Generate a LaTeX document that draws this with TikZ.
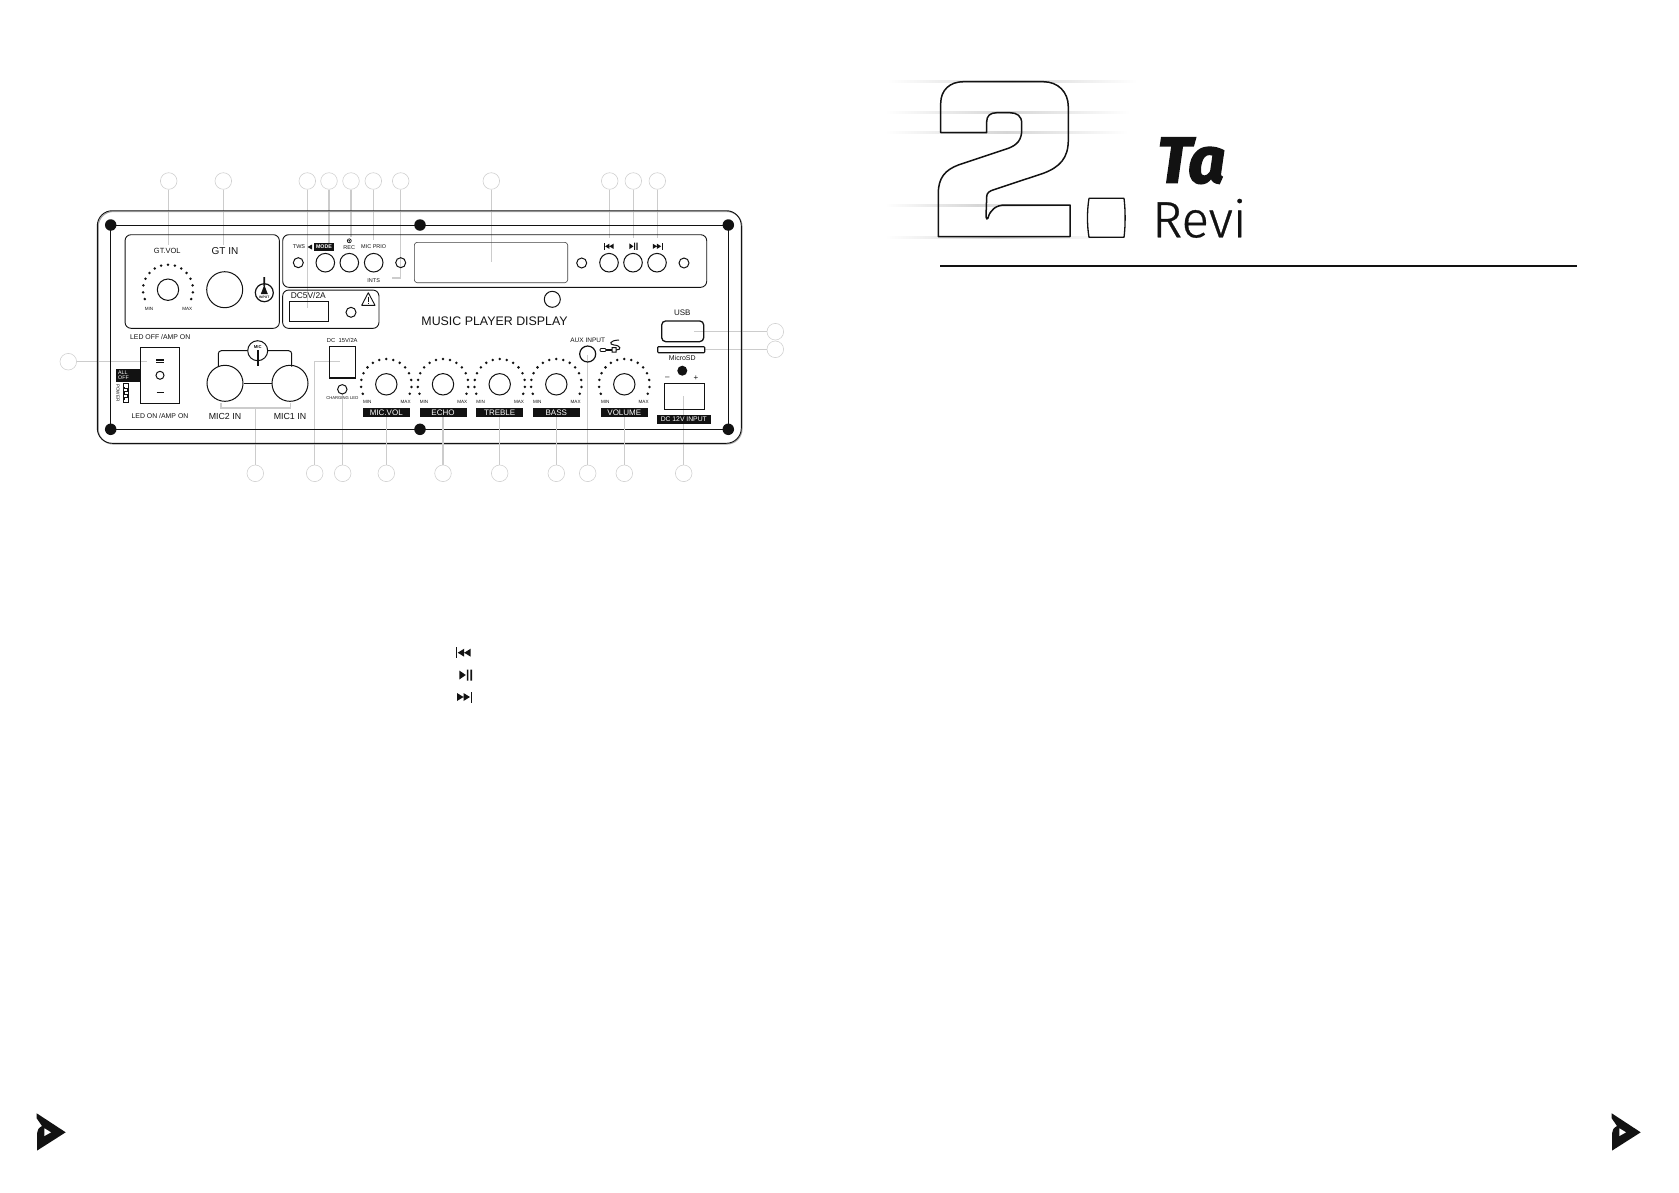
\documentclass[tikz,border=0pt]{standalone}
\usepackage{fontspec}
\setmainfont{Liberation Sans}
\newfontfamily\headfont[BoldItalicFeatures={FakeBold=2.2}]{Fira Sans}
\newfontfamily\headlight[FakeBold=.6]{Fira Sans Light}
\newcommand{\px}[1]{\fontsize{#1}{#1}\selectfont}
\definecolor{calloutgray}{gray}{0.82}
\definecolor{leadergray}{gray}{0.80}
\definecolor{streakgray}{gray}{0.84}
\definecolor{inkblack}{gray}{0.07}
\tikzset{
  callout/.style={circle,draw=calloutgray,line width=.6pt,minimum size=16.6pt,inner sep=0pt},
  leader/.style={draw=leadergray,line width=1.1pt},
  jack/.style={circle,draw=inkblack,line width=1pt,inner sep=0pt},
  led/.style={jack,minimum size=10pt},
  btn/.style={jack,minimum size=18.6pt},
  knob/.style={jack,minimum size=21.4pt},
  screw/.style={circle,fill=inkblack,minimum size=11.5pt,inner sep=0pt},
  block/.style={draw=inkblack,line width=.9pt,rounded corners=6pt},
  txt/.style={inner sep=0pt,text=inkblack,font=\px{5.5}},
  tag/.style={fill=inkblack,text=white,inner sep=0pt,minimum height=9.3pt,font=\px{8}},
  streak/.style={left color=white,right color=white,middle color=streakgray},
  logomark/.pic={
    \fill[inkblack] (0,0) -- (29,19) -- (.3,37.3) -- (.3,20)
      .. controls (.3,17) and (2,14.5) .. (5.3,12.7) -- (0,5) -- cycle;
    \fill[white] (7.7,15) -- (14.3,19) -- (7.7,22.7) -- cycle;
  },
  prevsym/.pic={
    \fill[inkblack] (-8,-5.5) rectangle (-6.6,5.5);
    \fill[inkblack] (-6,0) -- (0.5,-4) -- (0.5,4) -- cycle (0.5,0) -- (7,-4) -- (7,4) -- cycle;
  },
  playsym/.pic={
    \fill[inkblack] (-6.5,-4.5) -- (0,0) -- (-6.5,4.5) -- cycle;
    \fill[inkblack] (1,-5.5) rectangle (2.6,5.5) (4.6,-5.5) rectangle (6.2,5.5);
  },
  nextsym/.pic={
    \fill[inkblack] (8,-5.5) rectangle (6.6,5.5);
    \fill[inkblack] (6,0) -- (-0.5,-4) -- (-0.5,4) -- cycle (-0.5,0) -- (-7,-4) -- (-7,4) -- cycle;
  },
}
\begin{document}
\begin{tikzpicture}[x=1pt,y=-1pt]
  \useasboundingbox (0,0) rectangle (1679,1192);

  % callouts
  \foreach \name/\cx in {gtvol/168.7,gtin/223.3,dcfive/307.3,mode/329,rec/351,prio/373.3,ints/400.7,
      disp/491.3,prev/609.7,play/633.3,next/657.3}
    \node[callout] (top-\name) at (\cx,181) {};
  \foreach \name/\cx in {mic/255.3,dcin/314.7,charge/342.7,micvol/386.3,echo/443,treble/499.7,
      bass/556.3,aux/587.7,volume/624.3,dcinput/683.7}
    \node[callout] (bot-\name) at (\cx,473.3) {};
  \node[callout] (side-usb) at (775.3,331.7) {};
  \node[callout] (side-sd) at (775.3,349.3) {};
  \node[callout] (side-power) at (68.3,361.7) {};

  % leader ends
  \coordinate (end-gtvol) at (168.7,245);
  \coordinate (end-gtin) at (223.3,245);
  \coordinate (end-dcfive) at (307.3,307.7);
  \coordinate (end-mode) at (329,243);
  \coordinate (end-rec) at (351,237);
  \coordinate (end-prio) at (373.3,240);
  \coordinate (end-ints) at (391.7,278);
  \coordinate (bend-ints) at (400.7,278);
  \coordinate (end-disp) at (491.3,261.7);
  \coordinate (end-prev) at (609.7,238);
  \coordinate (end-play) at (633.3,238);
  \coordinate (end-next) at (657.3,238);
  \coordinate (end-mic) at (255.3,408);
  \coordinate (end-dcin) at (340,361.7);
  \coordinate (bend-dcin) at (314.7,361.7);
  \coordinate (end-charge) at (342.7,393);
  \coordinate (end-aux) at (587.7,355);
  \coordinate (end-dcinput) at (683.7,396);
  \coordinate (end-usb) at (694,331.7);
  \coordinate (end-sd) at (704,349.3);
  \coordinate (end-power) at (146.7,361.7);
  \foreach \name in {gtvol,gtin,dcfive,mode,rec,prio,disp,prev,play,next}
    \path[leader] (top-\name) edge (end-\name);
  \draw[leader] (top-ints) -- (bend-ints) -- (end-ints);
  \draw[leader] (bot-dcin) -- (bend-dcin) -- (end-dcin);
  \draw[leader] (221,403) |- (end-mic) -| (290.7,403);
  \path[leader] (bot-mic) edge (end-mic)
    (bot-charge) edge (end-charge)
    (bot-aux) edge (end-aux)
    (bot-dcinput) edge (end-dcinput);
  \path[leader,line width=.7pt] (side-usb) edge (end-usb)
    (side-sd) edge (end-sd)
    (side-power) edge (end-power);

  % panel
  \draw[draw=gray!70,line width=1.1pt,rounded corners=15pt] (98.2,211.5) rectangle (742,444);
  \draw[draw=inkblack,line width=.9pt,rounded corners=15pt] (97.3,210.7) rectangle (741.3,443.3);
  \draw[draw=inkblack,line width=1pt] (110.7,225) rectangle (728.3,429.3);
  \foreach \cx/\cy [count=\i] in {110.7/225,420/225,728.3/225,110.7/429.3,420/429.3,728.3/429.3}
    \node[screw] (screw-\i) at (\cx,\cy) {};
  \node[block,minimum width=154.3pt,minimum height=93.6pt,inner sep=0pt] (gtpanel) at (202.2,281.5) {};
  \node[block,minimum width=424pt,minimum height=52.6pt,inner sep=0pt] (strip) at (494.7,261) {};
  \node[block,minimum width=96.3pt,minimum height=38.3pt,inner sep=0pt] (usbpanel) at (330.8,309.2) {};
  \node[block,draw=inkblack!80,line width=.6pt,rounded corners=3pt,minimum width=153.4pt,minimum height=40.4pt,inner sep=0pt] (display) at (491,262.5) {};

  % guitar input
  \node[txt,font=\px{7.5}] (gtvol) at (167.3,250.7) {GT.VOL};
  \node[txt,font=\px{10}] (gtin) at (225,250.7) {GT IN};
  \node[knob] (gtknob) at (168,289.7) {};
  \foreach \a in {202,186,...,-22}
    \fill[inkblack] (gtknob.center) ++(\a:25pt) circle (1.4pt);
  \node[txt,font=\px{4.6}] (gtmin) at (149,309) {MIN};
  \node[txt,font=\px{4.6}] (gtmax) at (187.3,309) {MAX};
  \node[jack,minimum size=36pt] (gtjack) at (224.7,289.7) {};
  \node[jack,minimum size=18pt,line width=1.2pt] (inputicon) at (264.3,292.7) {};
  \node[txt,font=\bfseries\px{3.4}] (inputtxt) at (264.3,297.5) {INPUT};
  \fill[inkblack] (263.4,277) rectangle (265.2,286) (260.8,294) -- (264.3,285) -- (267.8,294) -- cycle;

  % usb charger
  \node[txt,font=\px{8.4}] (dcfivetxt) at (308.3,295.7) {DC5V/2A};
  \node[draw=inkblack,line width=1pt,minimum width=39pt,minimum height=19.7pt,inner sep=0pt] (usbport) at (308.5,311.2) {};
  \node[led] (dcfiveled) at (351,312.3) {};
  \draw[inkblack,line width=.9pt,line join=round] (368.3,292.7) -- (361.7,305.3) -- (375,305.3) -- cycle;
  \draw[inkblack,line width=.9pt] (368.3,296.5) -- (368.3,301.5) (368.3,302.7) -- (368.3,303.9);

  % control strip
  \node[txt] (twstxt) at (299,247) {TWS};
  \fill[inkblack] (307.5,247) -- (312,244.5) -- (312,249.5) -- cycle;
  \node[tag,font=\bfseries\px{5.3},minimum width=20pt,minimum height=7.7pt] (modetxt) at (324,246.8) {MODE};
  \node[txt] (rectxt) at (349.3,247.3) {REC};
  \node[circle,draw=inkblack,line width=.7pt,minimum size=4pt,inner sep=0pt] (recdot) at (349.3,240.8) {};
  \fill[inkblack] (recdot) circle (.9pt);
  \node[txt] (priotxt) at (373.7,247) {MIC PRIO};
  \node[txt] (intstxt) at (373.7,280.7) {INTS};
  \node[led] (twsled) at (298.3,262.7) {};
  \node[btn] (modebtn) at (325.3,262.7) {};
  \node[btn] (recbtn) at (349.3,262.7) {};
  \node[btn] (priobtn) at (373.7,262.7) {};
  \node[led] (intsled) at (400.7,262.7) {};
  \node[led] (leftled) at (581.7,263) {};
  \node[btn] (prevbtn) at (609,262.7) {};
  \node[btn] (playbtn) at (633,262.7) {};
  \node[btn] (nextbtn) at (657,262.7) {};
  \node[led] (rightled) at (684,263) {};
  \pic[scale=.65] (prevtop) at (609,246.3) {prevsym};
  \pic[scale=.65] (playtop) at (633.5,246.3) {playsym};
  \pic[scale=.65] (nexttop) at (657.3,246.3) {nextsym};
  \node[jack,minimum size=16pt] (irwindow) at (552.3,299.3) {};
  \node[txt,font=\px{12.4}] (playertxt) at (494.6,321) {MUSIC PLAYER DISPLAY};

  % power switch
  \node[txt,font=\px{6.9}] (ledoff) at (160.2,337.3) {LED OFF /AMP ON};
  \node[draw=inkblack,line width=1.1pt,minimum width=39pt,minimum height=56pt,inner sep=0pt] (switch) at (159.8,375.3) {};
  \draw[inkblack,line width=1.1pt] (156,360) -- (164,360) (156,362.8) -- (164,362.8) (156.5,392.3) -- (163.5,392.3);
  \node[jack,minimum size=8pt] (switchled) at (160,375.3) {};
  \node[fill=inkblack,minimum width=24pt,minimum height=12.4pt,inner sep=0pt] (alloff) at (128,375.5) {};
  \node[text=white,inner sep=0pt,font=\px{5.3},align=left] (alltxt) at (123.5,375.5) {ALL\\[-.6pt]OFF};
  \node[txt,font=\px{4.6},rotate=-90] (powertxt) at (118,393) {POWER};
  \node[draw=inkblack,line width=1pt,minimum width=5.4pt,minimum height=18.7pt,inner sep=0pt] (powerbox) at (126,393.3) {};
  \draw[inkblack,line width=.8pt] (124.8,386.5) -- (124.8,388.5) -- (127.2,388.5) -- (127.2,391.5) -- (124.8,391.5) -- (124.8,394.5) -- (127.2,394.5) -- (127.2,397.5) -- (124.8,397.5) -- (124.8,400);
  \node[txt,font=\px{6.9}] (ledon) at (160,416.3) {LED ON /AMP ON};

  % mic inputs
  \node[jack,minimum size=36pt] (micb) at (225,383.3) {};
  \node[jack,minimum size=36pt] (mica) at (290,383.3) {};
  \draw[inkblack,line width=1pt] (micb) -- (mica);
  \node[jack,minimum size=20pt] (micicon) at (257.7,350.7) {};
  \draw[inkblack,line width=1pt,rounded corners=3pt] (218.3,366.5) |- (micicon);
  \draw[inkblack,line width=1pt,rounded corners=3pt] (291.7,366.5) |- (micicon);
  \node[txt,font=\bfseries\px{4.2}] (mictxt) at (257.7,347) {MIC};
  \fill[inkblack] (257,350) rectangle (258.6,365.5);
  \node[txt,font=\px{8.8}] (micbtxt) at (225,416) {MIC2 IN};
  \node[txt,font=\px{8.8}] (micatxt) at (290,416) {MIC1 IN};

  % dc jack
  \node[txt,font=\px{5.8}] (dcintxt) at (342.3,340) {DC\ \ 15V/2A};
  \node[draw=inkblack,line width=1.3pt,minimum width=26.4pt,minimum height=31.3pt,inner sep=0pt] (dcinbox) at (342.5,362.3) {};
  \node[jack,minimum size=9.4pt] (chargeled) at (342.3,389.3) {};
  \node[txt,font=\px{4.2}] (chargetxt) at (342.3,397.7) {CHARGING LED};

  % knobs
  \foreach \name/\cx/\lab in {micvol/386.3/MIC.VOL,echo/443/ECHO,treble/499.7/TREBLE,bass/556.3/BASS,volume/624.3/VOLUME}{
    \node[knob] (knob-\name) at (\cx,384.3) {};
    \foreach \a in {202,186,...,-22}
      \fill[inkblack] (knob-\name.center) ++(\a:25.3pt) circle (1.4pt);
    \node[txt,font=\px{4.6}] (min-\name) at (\cx-19,402.3) {MIN};
    \node[txt,font=\px{4.6}] (max-\name) at (\cx+19.3,402.3) {MAX};
    \node[tag,minimum width=47pt] (tag-\name) at (\cx,412.3) {\lab};
    \path[leader] (bot-\name) edge (tag-\name);
  }

  % aux
  \node[txt,font=\px{6.5}] (auxtxt) at (587.7,340.3) {AUX INPUT};
  \node[jack,minimum size=16pt,line width=1.2pt] (auxjack) at (587.7,354) {};
  \draw[inkblack,line width=.9pt,rounded corners=1pt] (600,348.5) rectangle (606,351.5);
  \draw[inkblack,line width=1.1pt] (606,350) -- (612,350);
  \draw[inkblack,line width=1pt] (612,347.5) rectangle (616,352)
    (616,350) .. controls (622,350) and (621,345.5) .. (614,345) .. controls (609,344.5) and (609,340.5) .. (619,340);

  % usb and 12v
  \node[txt,font=\px{8}] (usbtxt) at (682.3,312.7) {USB};
  \node[draw=inkblack,line width=1.3pt,rounded corners=4pt,minimum width=42pt,minimum height=20.7pt,inner sep=0pt] (usbslot) at (682.7,331.3) {};
  \node[draw=inkblack,line width=1.1pt,rounded corners=.8pt,minimum width=47pt,minimum height=6pt,inner sep=0pt] (sdslot) at (681.2,349.7) {};
  \node[txt,font=\px{7}] (sdtxt) at (682.3,357.5) {MicroSD};
  \node[circle,fill=inkblack,minimum size=10pt,inner sep=0pt] (dcdot) at (682.3,370.7) {};
  \node[txt,font=\px{8}] (minustxt) at (667.3,378) {--};
  \node[txt,font=\px{8}] (plustxt) at (696,378) {+};
  \node[draw=inkblack,line width=1pt,minimum width=40pt,minimum height=26pt,inner sep=0pt] (dcbox) at (684,396.3) {};
  \node[tag,font=\px{6.8},minimum width=53.7pt] (dctag) at (683.8,419.2) {DC 12V INPUT};

  % media symbols
  \pic (prevlist) at (463.7,652.7) {prevsym};
  \pic (playlist) at (465.8,675) {playsym};
  \pic (nextlist) at (464,697) {nextsym};

  % heading
  \shade[streak] (887,80.5) rectangle (1137,82.5);
  \shade[streak] (885,111.3) rectangle (1130,113.3);
  \shade[streak] (885,131.3) rectangle (1128,133.3);
  \shade[streak] (885,204.3) rectangle (1070,206.3);
  \shade[streak] (885,236) rectangle (1110,238);
  \draw[inkblack,line width=1.5pt,line join=round] (940.7,132.7) -- (940.7,103.3)
    .. controls (940.7,90) and (950,81.7) .. (963.3,81.7) -- (1043.3,81.7)
    .. controls (1058,81.7) and (1068.3,92) .. (1068.3,106.7) -- (1068.3,140)
    .. controls (1068.3,158) and (1060,167) .. (1043.3,173.3) -- (995,189.3)
    .. controls (989,191) and (986.7,193) .. (986.7,196.7) -- (986,216.7)
    .. controls (986,219) and (987.5,220) .. (988,218)
    .. controls (990,210) and (996,205) .. (1005,205) -- (1070,205) -- (1070,236.7)
    -- (938.3,236.7) -- (938.3,193.3)
    .. controls (938.3,178) and (945,170) .. (958.3,165) -- (1008.3,148.3)
    .. controls (1017,145) and (1021.7,140) .. (1021.7,130) -- (1021.7,123.3)
    .. controls (1021.7,116) and (1017,112.7) .. (1010,112.7) -- (996.7,112.7)
    .. controls (990,112.7) and (986.7,116) .. (986.7,121.7) -- (986.7,132.7) -- cycle;
  \draw[inkblack,line width=1.3pt,line join=round] (1089,198.3) -- (1124,198.3)
    .. controls (1125.5,210) and (1125.5,226) .. (1124,237.3) -- (1089,237.3)
    .. controls (1087,226) and (1087,210) .. (1089,198.3) -- cycle;
  \node[inner sep=0pt,anchor=base west,text=inkblack,font=\headfont\bfseries\itshape\px{65}] (headtop) at (1157,182.7) {Ta};
  \node[inner sep=0pt,anchor=base west,text=inkblack,font=\headlight\px{51}] (headsub) at (1152,237.3) {Revi};
  \draw[inkblack,line width=2.2pt] (940,265.7) -- (1577,265.7);

  % page marks
  \pic (markleft) at (36.7,1113.3) {logomark};
  \pic (markright) at (1611.7,1113.3) {logomark};
\end{tikzpicture}
\end{document}
